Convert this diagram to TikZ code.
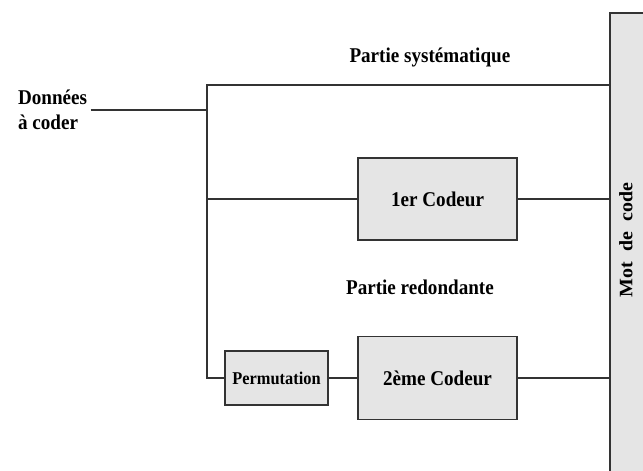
\documentclass[tikz,border=0pt]{standalone}
\usepackage{fontspec}
\setmainfont{Liberation Serif}[FakeStretch=0.91]
\newfontfamily\motfont{Liberation Serif}[FakeStretch=1.05]
\usepackage{tikz}

\begin{document}
\begin{tikzpicture}[
    txt/.style={font=\fontsize{21}{25}\selectfont\bfseries},
    bloc/.style={draw=black!80, line width=1.8pt, fill=black!10, txt},
    fil/.style={draw=black!80, line width=1.8pt}]
    \path [use as bounding box, clip] (0,0) rectangle (22.6,16.554);
    \node [txt, align=left] at (1.85,12.69) (a) {Données\\à coder};
    \node [txt] at (15.11,14.55) (b) {Partie systématique};
    \node [bloc, minimum width=5.59cm, minimum height=2.88cm] at (15.38,9.56) (c) {1er Codeur};
    \node [txt] at (14.76,6.47) (e) {Partie redondante};
    \node [bloc, font=\fontsize{18}{22}\selectfont\bfseries, minimum width=3.62cm, minimum height=1.9cm] at (9.72,3.27) (f) {Permutation};
    \node [bloc, minimum width=5.59cm, minimum height=2.92cm] at (15.38,3.27) (g) {2ème Codeur};
    \node [bloc, minimum width=3cm, minimum height=17cm, anchor=north west] at (21.404,16.132) (d) {};
    \node [font=\fontsize{19}{20}\motfont\bfseries, rotate=90] at (22.0,8.12) (m) {Mot\ \ de\ \ code};
    \coordinate (t) at (7.275,13.566);
    \path [fil] (d.west |- t) -- (t) |- (f.west);
    \path [fil] (a.east) -- (a.east -| t);
    \path [fil] (c.west) -- (c.west -| t);
    \path [fil] (f.east) -- (g.west);
    \path [fil] (c.east) -- (c.east -| d.west);
    \path [fil] (g.east) -- (g.east -| d.west);
\end{tikzpicture}
\end{document}
